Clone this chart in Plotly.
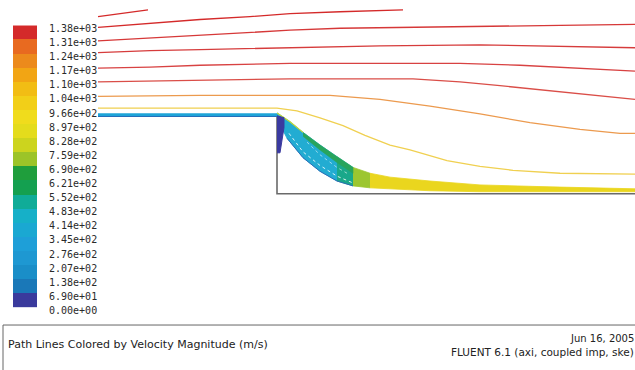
import plotly.graph_objects as go

# ---------------- data ----------------
# colour legend (velocity magnitude, m/s)
band_colors = ["#3a3a9c", "#1a78b8", "#1a8ec8", "#1e98d2", "#1e9fd8",
               "#1aa8d2", "#16b0c8", "#10ac98", "#14a050", "#1f9e3c",
               "#9cc428", "#ccd41e", "#e4dc1c", "#f0dc1c", "#f2cf18",
               "#f2bd14", "#f2a514", "#ec8a1c", "#e86a20", "#d42a2a"]
level_values = [0, 69, 138, 207, 276, 345, 414, 483, 552, 621, 690,
                759, 828, 897, 966, 1035, 1104, 1173, 1242, 1311, 1380]
level_labels = ["0.00e+00", "6.90e+01", "1.38e+02", "2.07e+02", "2.76e+02",
                "3.45e+02", "4.14e+02", "4.83e+02", "5.52e+02", "6.21e+02",
                "6.90e+02", "7.59e+02", "8.28e+02", "8.97e+02", "9.66e+02",
                "1.04e+03", "1.10e+03", "1.17e+03", "1.24e+03", "1.31e+03",
                "1.38e+03"]

# free-stream path lines (x, y relative to the step corner)
line_a_x = [-179, -150, -129]
line_a_y = [102, 106, 109]
line_b_x = [-179, -127, -77, -27, 13, 63, 126]
line_b_y = [91, 95, 99, 102, 105, 107, 109]
line_c_x = [-179, -127, -77, -27, 13, 63, 123, 203, 283, 358]
line_c_y = [77, 80, 83, 86, 88, 90, 91, 92, 93, 94]
line_d_x = [-179, -127, -77, 13, 103, 203, 263, 358]
line_d_y = [65, 67, 68, 70, 72, 73, 72, 70]
line_e_x = [-179, -127, -77, 13, 123, 183, 243, 303, 358]
line_e_y = [49, 50, 52, 54, 54, 54, 52, 49, 46]
line_f_x = [-179, -77, 13, 136, 183, 223, 283, 358]
line_f_y = [35, 37, 38, 38, 35, 31, 25, 17]
line_g_x = [-179, -77, 53, 103, 153, 203, 253, 303, 343, 358]
line_g_y = [20, 21, 21, 17, 10, 2, -7, -14, -18, -18]
line_h_x = [-179, 0, 20, 43, 66, 88, 113, 133, 170, 203, 236, 283, 358]
line_h_y = [8, 8, 5, -2, -10, -20, -30, -35, -46, -52, -56, -59, -60]

# wall jet / shear layer band
band_up_x = [0, 13, 26, 43, 60, 76, 93, 113, 153, 203, 273, 358]
band_up_y = [3, -6, -17, -30, -42, -53, -59, -63, -67, -71, -73, -75]
band_lo_x = [0, 10, 26, 43, 60, 76, 93, 113, 153, 203, 273, 358]
band_lo_y = [-3, -23, -43, -57, -67, -72, -74, -75, -77, -78, -78, -78]
green_in_x = [26, 43, 60, 76]
green_in_y = [-21, -35, -48, -59]
streak1_x = [12, 26, 43, 60, 76]
streak1_y = [-18, -37, -51, -62, -69]
streak2_x = [30, 43, 60, 70]
streak2_y = [-27, -40, -53, -59]
recirc_x = [0, 7, 7, 5, 3, 0]
recirc_y = [0, -2, -12, -26, -38, -38]

# geometry
step_x = [-179, 0]
step_y = [1, 1]
wall_x = [0, 0, 358]
wall_y = [0, -80, -80]

title_text = "Path Lines Colored by Velocity Magnitude (m/s)"
date_text = "Jun 16, 2005"
solver_text = "FLUENT 6.1 (axi, coupled imp, ske)"

# ---------------- figure ----------------
W, H = 635, 370


def py2paper(p):
    return 1 - p / H


fig = go.Figure()


def add_line(x, y, color, width=1.3, dash=None):
    fig.add_trace(go.Scatter(x=x, y=y, mode="lines", hoverinfo="skip",
                             line=dict(color=color, width=width, dash=dash),
                             showlegend=False, xaxis="x", yaxis="y"))


def sel(xs, ys, lo, hi):
    px, py = [], []
    for a, b in zip(xs, ys):
        if lo <= a <= hi:
            px.append(a)
            py.append(b)
    return px, py


def add_band(lo, hi, color):
    ux, uy = sel(band_up_x, band_up_y, lo, hi)
    lx, ly = sel(band_lo_x, band_lo_y, lo, hi)
    fig.add_trace(go.Scatter(x=ux + lx[::-1], y=uy + ly[::-1], mode="lines",
                             fill="toself", fillcolor=color,
                             line=dict(color=color, width=0.8),
                             hoverinfo="skip", showlegend=False,
                             xaxis="x", yaxis="y"))


# walls
add_line(wall_x, wall_y, "#6a6a6a", 1.6)

# band
add_band(0, 60, "#22acd2")
add_band(60, 76, "#1aa88a")
add_band(76, 93, "#9cc630")
add_band(93, 358, "#ead61e")
# green outer layer
gux, guy = sel(band_up_x, band_up_y, 26, 76)
fig.add_trace(go.Scatter(x=gux + green_in_x[::-1], y=guy + green_in_y[::-1],
                         mode="lines", fill="toself", fillcolor="#28a45c",
                         line=dict(color="#28a45c", width=0.6),
                         hoverinfo="skip", showlegend=False,
                         xaxis="x", yaxis="y"))
tx, ty = sel(band_up_x, band_up_y, 0, 26)
add_line(tx, ty, "#c8d830", 1.2)
lx, ly = sel(band_lo_x, band_lo_y, 10, 76)
add_line(lx, ly, "#2a64b4", 0.9)
add_line(streak1_x, streak1_y, "rgba(255,255,255,0.85)", 1.0, "dot")
add_line(streak2_x, streak2_y, "rgba(255,255,255,0.7)", 0.8, "dot")
fig.add_trace(go.Scatter(x=recirc_x, y=recirc_y, mode="lines", fill="toself",
                         fillcolor="#3a3aa0", line=dict(color="#3a3aa0", width=1),
                         hoverinfo="skip", showlegend=False,
                         xaxis="x", yaxis="y"))

# step top (slow boundary layer)
add_line(step_x, [v - 1.5 for v in step_y], "#2a5cb0", 1.2)
add_line(step_x, step_y, "#1ea4d8", 3)

# free-stream lines
add_line(line_a_x, line_a_y, "#d42a2a")
add_line(line_b_x, line_b_y, "#d42a2a")
add_line(line_c_x, line_c_y, "#d63838")
add_line(line_d_x, line_d_y, "#d63c3c")
add_line(line_e_x, line_e_y, "#d84242")
add_line(line_f_x, line_f_y, "#da4e48")
add_line(line_g_x, line_g_y, "#ec9a4e")
add_line(line_h_x, line_h_y, "#f0d050")

# colour legend as heatmap
centers = [(level_values[i] + level_values[i + 1]) / 2 for i in range(20)]
cscale = []
for i, c in enumerate(band_colors):
    cscale.append([i / 20, c])
    cscale.append([(i + 1) / 20, c])
fig.add_trace(go.Heatmap(z=[[v] for v in centers], y=centers, x=[0],
                         colorscale=cscale, zmin=0, zmax=1380, showscale=False,
                         hoverinfo="skip", xaxis="x2", yaxis="y2"))

fig.update_layout(
    width=W, height=H, margin=dict(l=0, r=0, t=0, b=0),
    paper_bgcolor="white", plot_bgcolor="rgba(0,0,0,0)",
    xaxis=dict(range=[-277, 358], visible=False, domain=[0, 1]),
    yaxis=dict(range=[117 - H, 117], visible=False, domain=[0, 1]),
    xaxis2=dict(domain=[13 / W, 37 / W], anchor="y2", visible=False),
    yaxis2=dict(domain=[py2paper(314), py2paper(24)], anchor="x2", side="right",
                range=[0, 1380], tickvals=level_values, ticktext=level_labels,
                showgrid=False, zeroline=False, showline=False, ticks="",
                ticklabelshift=3, ticklabelstandoff=11,
                tickfont=dict(family="DejaVu Sans Mono", size=10, color="#2a2a2a")),
    showlegend=False,
)

fig.add_shape(type="rect", xref="paper", yref="paper",
              x0=3 / W, x1=1.02, y0=-0.05, y1=py2paper(332),
              line=dict(color="#666666", width=1), fillcolor="white")
fig.add_annotation(text=title_text, xref="paper", yref="paper",
                   x=7 / W, y=py2paper(352), xanchor="left", yanchor="middle",
                   showarrow=False, borderpad=0,
                   font=dict(family="DejaVu Sans", size=11, color="#222"))
fig.add_annotation(text=date_text, xref="paper", yref="paper",
                   x=635 / W, y=py2paper(346), xanchor="right", yanchor="middle",
                   showarrow=False, borderpad=0,
                   font=dict(family="DejaVu Sans", size=10, color="#222"))
fig.add_annotation(text=solver_text, xref="paper", yref="paper",
                   x=635 / W, y=py2paper(359.5), xanchor="right", yanchor="middle",
                   showarrow=False, borderpad=0,
                   font=dict(family="DejaVu Sans", size=10.5, color="#222"))

post = ("document.documentElement.style.margin='0px';"
        "document.documentElement.style.overflow='hidden';"
        "document.body.style.margin='0px';"
        "document.body.style.overflow='hidden';"
        "var gd=document.getElementById('{plot_id}');"
        "gd.style.position='fixed';gd.style.left='0px';gd.style.top='0px';")
fig.write_html("out.html", config={"displayModeBar": False}, post_script=post)
